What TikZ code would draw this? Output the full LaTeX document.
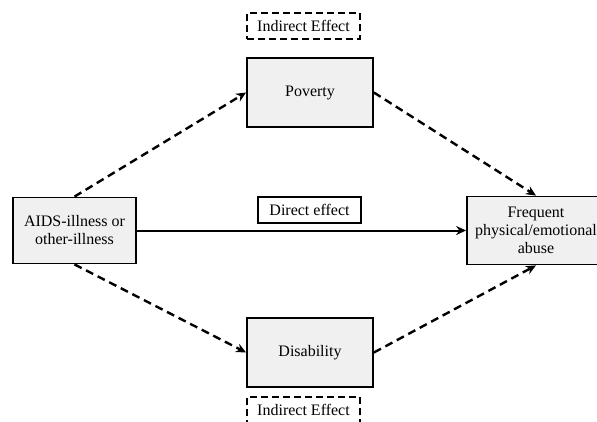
\documentclass[tikz,border=0pt]{standalone}
\usepackage{fontspec}
\setmainfont{Liberation Serif}
\usetikzlibrary{arrows.meta}

\begin{document}
\begin{tikzpicture}[x=1pt,y=-1pt,
  every node/.style={font=\fontsize{16}{18}\selectfont,align=center,inner sep=0pt},
  var/.style={draw,line width=1.8pt,fill=black!6},
  tag/.style={draw,line width=1.6pt,minimum height=26pt},
  path/.style={line width=2.4pt,dash pattern=on 8pt off 5pt,-{Stealth[length=10pt,width=9pt]}}]
\clip (0,0) rectangle (597,421);
\node [var,minimum width=123pt,minimum height=66pt] (aids) at (74.5,230.5) {AIDS-illness or\\other-illness};
\node [var,minimum width=126pt,minimum height=69pt] (pov) at (310,92.5) {Poverty};
\node [var,minimum width=126pt,minimum height=69pt] (dis) at (310,352.5) {Disability};
\node [var,minimum width=138pt,minimum height=68pt] (abuse) at (536,230.5) {Frequent\\physical/emotional\\abuse};
\node [tag,minimum width=103pt] (direct) at (309.5,210) {Direct effect};
\node [tag,dashed,dash pattern=on 7pt off 4pt,minimum width=113pt] (ind1) at (303.5,26) {Indirect Effect};
\node [tag,dashed,dash pattern=on 7pt off 4pt,minimum width=113pt] (ind2) at (303.5,410) {Indirect Effect};
\draw [path] (aids.north) -- (pov.west);
\draw [path] (pov.east) -- (abuse.north);
\draw [path] (aids.south) -- (dis.west);
\draw [path] (dis.east) -- (abuse.south);
\draw [line width=2pt,-{Stealth[length=10pt,width=9pt]}] (aids) -- (abuse);
\end{tikzpicture}
\end{document}
